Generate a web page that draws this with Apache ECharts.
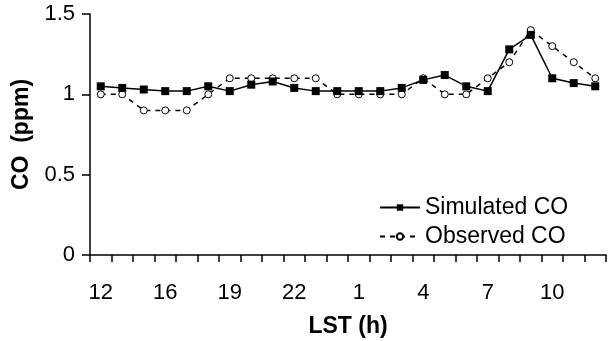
<!DOCTYPE html>
<html>
<head>
<meta charset="utf-8">
<script src="https://cdn.jsdelivr.net/npm/echarts@6/dist/echarts.min.js"></script>
<style>
  html, body { margin: 0; padding: 0; background: #fff; }
  #chart { width: 609px; height: 341px; }
</style>
</head>
<body>
<div id="chart"></div>
<script>
// hours LST, one hour missing between 12 and 16
const hours = ['12', '13', '14', '16', '17', '18', '19', '20', '21', '22', '23', '0',
               '1', '2', '3', '4', '5', '6', '7', '8', '9', '10', '11', '12'];
const simulated = [1.05, 1.04, 1.03, 1.02, 1.02, 1.05, 1.02, 1.06, 1.08, 1.04, 1.02, 1.02,
                   1.02, 1.02, 1.04, 1.09, 1.12, 1.05, 1.02, 1.28, 1.37, 1.10, 1.07, 1.05];
const observed = [1.0, 1.0, 0.9, 0.9, 0.9, 1.0, 1.1, 1.1, 1.1, 1.1, 1.1, 1.0,
                  1.0, 1.0, 1.0, 1.1, 1.0, 1.0, 1.1, 1.2, 1.4, 1.3, 1.2, 1.1];

const font = 'Liberation Sans, Arial, sans-serif';

let chart = echarts.init(document.getElementById('chart'));
chart.setOption({
    animation: false,
    grid: {
        left: 90,
        right: 3,
        top: 14,
        bottom: 86,
        containLabel: false,
        outerBoundsMode: 'none'
    },
    legend: {
        data: ['Simulated CO', 'Observed CO'],
        orient: 'vertical',
        left: 374,
        top: 191,
        itemWidth: 40,
        itemHeight: 8,
        itemGap: 6,
        textStyle: { fontFamily: font, fontSize: 23, color: '#000' }
    },
    xAxis: {
        type: 'category',
        data: hours,
        boundaryGap: true,
        name: 'LST (h)',
        nameLocation: 'middle',
        nameGap: 60,
        nameTextStyle: { fontFamily: font, fontSize: 23, fontWeight: 'bold', color: '#000' },
        axisLine: { show: true, onZero: false, lineStyle: { color: '#000', width: 1.5 } },
        axisTick: {
            show: true,
            inside: false,
            alignWithLabel: false,
            interval: function () { return true; },
            length: 7,
            lineStyle: { color: '#000', width: 1.5 }
        },
        axisLabel: { interval: 2, margin: 27, fontFamily: font, fontSize: 22, color: '#000' },
        splitLine: { show: false }
    },
    yAxis: {
        type: 'value',
        min: 0,
        max: 1.5,
        interval: 0.5,
        name: 'CO  (ppm)',
        nameLocation: 'middle',
        nameRotate: 90,
        nameGap: 56,
        nameTextStyle: { fontFamily: font, fontSize: 23, fontWeight: 'bold', color: '#000' },
        axisLine: { show: true, lineStyle: { color: '#000', width: 1.5 } },
        axisTick: { show: true, length: 8, lineStyle: { color: '#000', width: 1.5 } },
        axisLabel: { margin: 15, fontFamily: font, fontSize: 22, color: '#000' },
        splitLine: { show: false }
    },
    series: [
        {
            name: 'Observed CO',
            type: 'line',
            data: observed,
            symbol: 'circle',
            symbolSize: 7,
            itemStyle: { color: '#fff', borderColor: '#000', borderWidth: 1 },
            lineStyle: { color: '#000', width: 1.5, type: [5, 5] },
            z: 2
        },
        {
            name: 'Simulated CO',
            type: 'line',
            data: simulated,
            symbol: 'rect',
            symbolSize: 8,
            itemStyle: { color: '#000' },
            lineStyle: { color: '#000', width: 1.5 },
            z: 3
        }
    ]
});
</script>
</body>
</html>
